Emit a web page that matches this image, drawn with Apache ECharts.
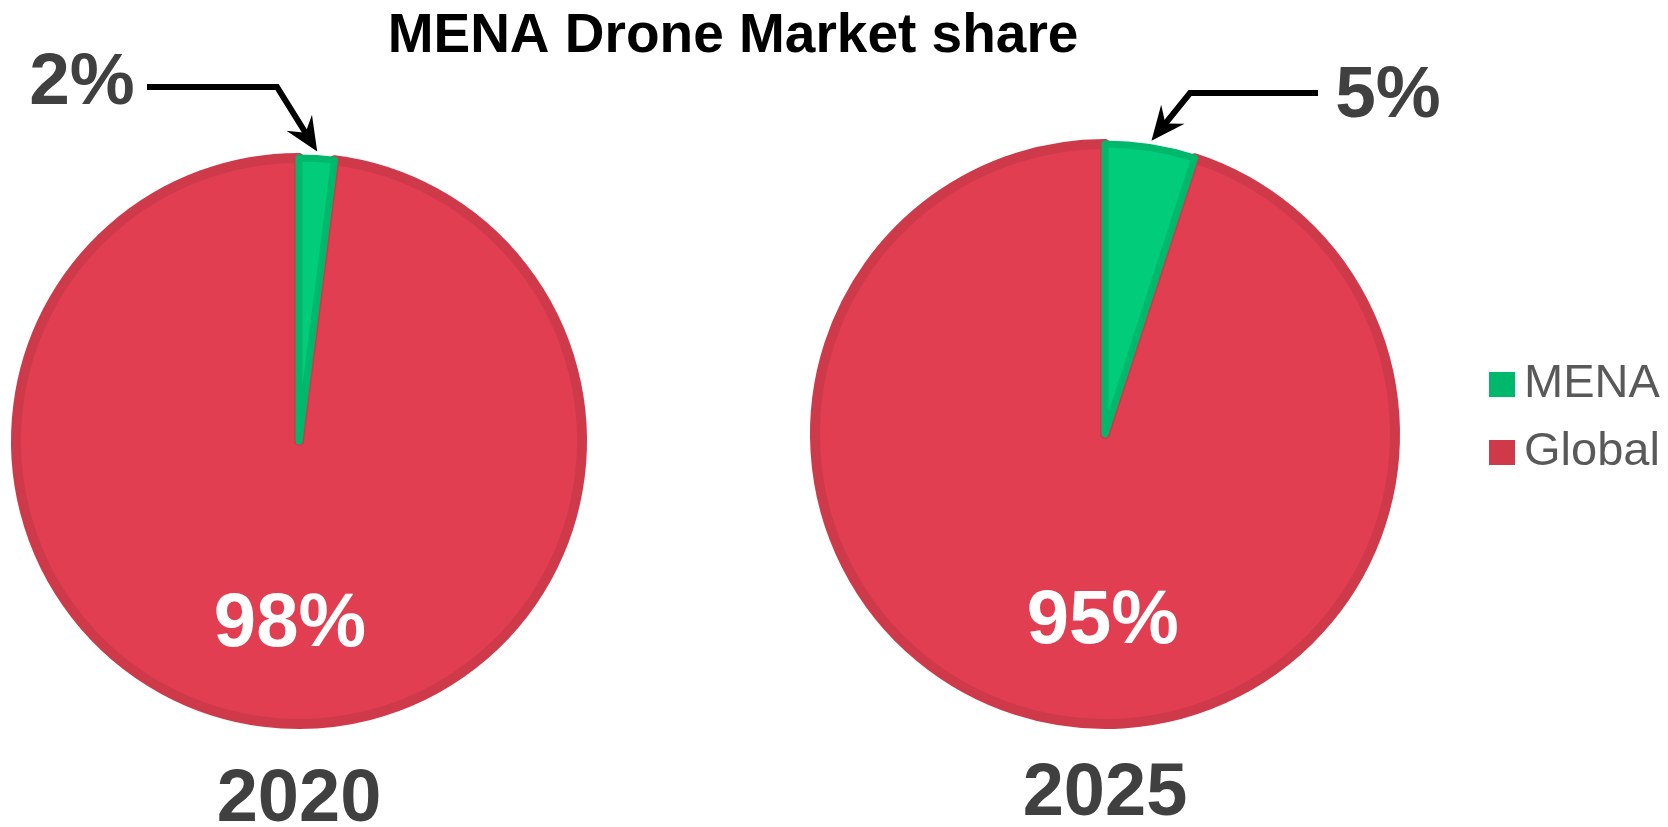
<!DOCTYPE html>
<html><head><meta charset="utf-8">
<script src="https://cdn.jsdelivr.net/npm/echarts@6/dist/echarts.min.js"></script>
<style>html,body{margin:0;padding:0;background:#fff}#c{width:1668px;height:827px}</style>
</head><body><div id="c"></div>
<script>
// ---- data ----
const categories = ['MENA', 'Global'];
const years = ['2020', '2025'];
const menaShare = [2, 5];
const globalShare = [98, 95];
const chartTitle = 'MENA Drone Market share';

// ---- style / layout ----
const FONT = '"Liberation Sans", Arial, Helvetica, sans-serif';
const fillColors = {MENA: '#00CC7A', Global: '#E13E51'};
const borderColors = {MENA: '#00B86B', Global: '#CF3A4B'};
const borderWidths = {MENA: 7, Global: 10};
const BW = 10;
const pies = [
  {center: [299, 441], r: 288, elbow: [277, 87], lineEnd: [147, 87], label: [82, 84], globalShift: [0, 40], yearTop: 764},
  {center: [1105, 434], r: 295, elbow: [1190, 93], lineEnd: [1318, 93], label: [1388, 97], globalShift: [21, 42], yearTop: 758}
];

const series = years.map((y, i) => {
  const p = pies[i];
  const total = menaShare[i] + globalShare[i];
  // Global drawn first, MENA last (on top); MENA slice still starts at 12 o'clock
  const start = 90 - (menaShare[i] / total) * 360;
  const items = [
    {name: categories[1], value: globalShare[i], k: 'Global'},
    {name: categories[0], value: menaShare[i], k: 'MENA'}
  ];
  return {
    type: 'pie', name: y, center: p.center, radius: [0, p.r - BW / 2],
    startAngle: start, clockwise: true, avoidLabelOverlap: false, silent: true,
    animation: false,
    data: items.map(it => ({
      name: it.name, value: it.value,
      itemStyle: {color: fillColors[it.k], borderColor: borderColors[it.k], borderWidth: borderWidths[it.k]},
      label: it.k === 'MENA'
        ? {show: true, position: 'outside', formatter: '{c}%', fontSize: 73, fontWeight: 'bold', color: '#404040', fontFamily: FONT}
        : {show: true, position: 'inside', formatter: '{c}%', fontSize: 76, fontWeight: 'bold', color: '#ffffff', fontFamily: FONT},
      labelLine: {show: false}
    })),
    labelLayout: function (params) {
      if (params.dataIndex === 1) {
        return {x: p.label[0], y: p.label[1], align: 'center', verticalAlign: 'middle'};
      }
      return {dx: p.globalShift[0], dy: p.globalShift[1]};
    }
  };
});

// arrows: tip computed from the MENA slice's mid angle
const graphics = [];
years.forEach((y, i) => {
  const p = pies[i];
  const total = menaShare[i] + globalShare[i];
  const a = (menaShare[i] / total) * Math.PI; // half slice angle, radians from top
  const rr = p.r + 2;
  const tip = [p.center[0] + rr * Math.sin(a), p.center[1] - rr * Math.cos(a)];
  const dx = tip[0] - p.elbow[0], dy = tip[1] - p.elbow[1];
  const len = Math.hypot(dx, dy);
  const ux = dx / len, uy = dy / len, nx = -uy, ny = ux;
  const L = 34, W = 15;
  const shaftEnd = [tip[0] - ux * L * 0.6, tip[1] - uy * L * 0.6];
  graphics.push({
    type: 'polyline', silent: true,
    shape: {points: [p.lineEnd, p.elbow, shaftEnd]},
    style: {stroke: '#000', lineWidth: 6, fill: null, lineJoin: 'miter'}
  });
  graphics.push({
    type: 'polygon', silent: true,
    shape: {points: [
      tip,
      [tip[0] - ux * L + nx * W, tip[1] - uy * L + ny * W],
      [tip[0] - ux * L * 0.65, tip[1] - uy * L * 0.65],
      [tip[0] - ux * L - nx * W, tip[1] - uy * L - ny * W]
    ]},
    style: {fill: '#000'}
  });
});

const chart = echarts.init(document.getElementById('c'), null, {renderer: 'canvas'});
chart.setOption({
  backgroundColor: '#ffffff',
  animation: false,
  title: [
    {text: chartTitle, left: 733, top: 9, textAlign: 'center', padding: 0,
     textStyle: {fontSize: 55, fontWeight: 'bold', color: '#000000', fontFamily: FONT}},
    {text: years[0], left: pies[0].center[0], top: pies[0].yearTop, textAlign: 'center', padding: 0,
     textStyle: {fontSize: 74, fontWeight: 'bold', color: '#404040', fontFamily: FONT}},
    {text: years[1], left: pies[1].center[0], top: pies[1].yearTop, textAlign: 'center', padding: 0,
     textStyle: {fontSize: 74, fontWeight: 'bold', color: '#404040', fontFamily: FONT}}
  ],
  legend: {
    orient: 'vertical', left: 1484, top: 356, itemWidth: 26, itemHeight: 25, itemGap: 21,
    icon: 'rect', selectedMode: false,
    itemStyle: {borderWidth: 0},
    textStyle: {fontSize: 47, color: '#595959', fontFamily: FONT, padding: [0, 0, 0, 4]},
    data: categories.map(c => ({name: c, itemStyle: {color: borderColors[c], borderWidth: 0}}))
  },
  series: series,
  graphic: graphics
});
</script>
</body></html>
